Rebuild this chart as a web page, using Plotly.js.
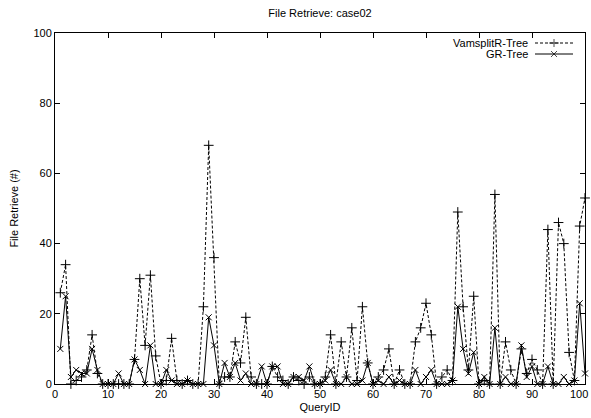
<!DOCTYPE html>
<html>
<head>
<meta charset="utf-8">
<script src="https://cdn.plot.ly/plotly-3.0.1.min.js"></script>
<style>html,body{margin:0;padding:0;background:#fff;overflow:hidden;}#chart{width:591px;height:418px;}</style>
</head>
<body>
<div id="chart"></div>
<script>
// Query IDs
const queryIds = Array.from({length: 100}, (_, i) => i + 1);
// VamsplitR-Tree file retrieve counts
const vamsplit = [
  26, 34, 0, 1, 2, 4, 14, 3, 0, 0,
  0, 0, 0, 0, 7, 30, 11, 31, 8, 0,
  1, 13, 1, 0, 1, 0, 0, 22, 68, 36,
  0, 2, 2, 12, 6, 19, 2, 0, 0, 0,
  5, 2, 1, 0, 2, 1, 0, 2, 0, 0,
  2, 14, 0, 12, 2, 16, 1, 22, 6, 0,
  2, 4, 10, 0, 4, 0, 0, 12, 16, 23,
  14, 0, 2, 4, 1, 49, 22, 4, 25, 0,
  1, 0, 54, 0, 12, 4, 0, 10, 3, 7,
  4, 0, 44, 0, 46, 40, 9, 1, 45, 53
];
// GR-Tree file retrieve counts
const grtree = [
  10, 25, 2, 4, 3, 3, 10, 4, 0, 0,
  0, 3, 0, 0, 7, 4, 0, 11, 0, 0,
  4, 1, 0, 0, 1, 0, 0, 0, 19, 11,
  0, 6, 2, 6, 1, 3, 0, 0, 5, 0,
  5, 5, 0, 0, 2, 2, 1, 5, 0, 0,
  1, 4, 0, 0, 2, 0, 0, 1, 6, 0,
  1, 0, 2, 0, 1, 0, 0, 4, 0, 2,
  4, 0, 0, 0, 1, 22, 10, 3, 9, 0,
  2, 0, 16, 0, 2, 0, 0, 11, 2, 5,
  0, 0, 5, 0, 0, 2, 0, 1, 23, 3
];
const seriesNames = ['VamsplitR-Tree', 'GR-Tree'];
const xTicks = [0, 10, 20, 30, 40, 50, 60, 70, 80, 90, 100];
const yTicks = [0, 20, 40, 60, 80, 100];

const FONT = 'Liberation Sans, Arial, Helvetica, sans-serif';
const legendSampleX = [0, 0.5, 1];
const legendSampleY = [0.5, 0.5, 0.5];

const traces = [
  {
    x: queryIds, y: vamsplit, name: seriesNames[0], type: 'scatter', mode: 'lines+markers',
    line: {color: '#000', width: 1, dash: '3px,2px'},
    marker: {symbol: 'cross-thin-open', size: 7, color: '#000', line: {color: '#000', width: 1}},
    showlegend: false, cliponaxis: false
  },
  {
    x: queryIds, y: grtree, name: seriesNames[1], type: 'scatter', mode: 'lines+markers',
    line: {color: '#000', width: 1},
    marker: {symbol: 'x-thin-open', size: 6, color: '#000', line: {color: '#000', width: 1}},
    showlegend: false, cliponaxis: false
  },
  // legend samples (overlay axes)
  {
    x: legendSampleX, y: legendSampleY, xaxis: 'x2', yaxis: 'y2', mode: 'lines+markers',
    line: {color: '#000', width: 1, dash: '3px,2px'},
    marker: {symbol: 'cross-thin-open', size: [0, 7, 0], color: '#000', line: {color: '#000', width: 1}},
    showlegend: false, hoverinfo: 'skip'
  },
  {
    x: legendSampleX, y: legendSampleY, xaxis: 'x3', yaxis: 'y3', mode: 'lines+markers',
    line: {color: '#000', width: 1},
    marker: {symbol: 'x-thin-open', size: [0, 6, 0], color: '#000', line: {color: '#000', width: 1}},
    showlegend: false, hoverinfo: 'skip'
  }
];

// plot area: 55..585 px horizontally, 33..384 px vertically
const W = 591, H = 418;
const L = 55, R = 6, T = 33, B = 34;
const pw = W - L - R, ph = H - T - B;
function px2paperX(p) { return (p - L) / pw; }
function px2paperY(p) { return (H - B - p) / ph; }

const hiddenAxis = {visible: false, range: [0, 1], fixedrange: true};
const lastX = xTicks[xTicks.length - 1];

const layout = {
  width: W, height: H,
  margin: {l: L, r: R, t: T, b: B},
  paper_bgcolor: '#fff', plot_bgcolor: '#fff',
  font: {family: FONT, size: 11, color: '#000'},
  showlegend: false,
  title: {
    text: 'File Retrieve: case02', font: {family: FONT, size: 11, color: '#000'},
    x: 0.5, xref: 'paper', y: 1 - 13 / H, yref: 'container', yanchor: 'middle'
  },
  xaxis: {
    range: [0, 100], tickvals: xTicks,
    ticktext: xTicks.map(v => v === lastX ? '' : String(v)),
    ticks: 'inside', ticklen: 5, tickwidth: 1, tickcolor: '#000',
    showline: true, linecolor: '#000', linewidth: 1, mirror: 'allticks',
    showgrid: false, zeroline: false,
    tickfont: {family: FONT, size: 11, color: '#000'},
    title: {text: 'QueryID', font: {family: FONT, size: 11, color: '#000'}, standoff: 4}
  },
  yaxis: {
    range: [0, 100], tickvals: yTicks, ticktext: yTicks.map(String),
    ticks: 'inside', ticklen: 5, tickwidth: 1, tickcolor: '#000',
    showline: true, linecolor: '#000', linewidth: 1, mirror: 'allticks',
    showgrid: false, zeroline: false,
    tickfont: {family: FONT, size: 11, color: '#000'},
    title: {text: 'File Retrieve (#)', font: {family: FONT, size: 11, color: '#000'}, standoff: 12}
  },
  xaxis2: Object.assign({domain: [px2paperX(535), px2paperX(573)], anchor: 'y2'}, hiddenAxis),
  yaxis2: Object.assign({domain: [px2paperY(47), px2paperY(39)], anchor: 'x2'}, hiddenAxis),
  xaxis3: Object.assign({domain: [px2paperX(535), px2paperX(573)], anchor: 'y3'}, hiddenAxis),
  yaxis3: Object.assign({domain: [px2paperY(58), px2paperY(50)], anchor: 'x3'}, hiddenAxis),
  annotations: [
    {text: seriesNames[0], xref: 'paper', yref: 'paper', x: px2paperX(530), y: px2paperY(43),
     xanchor: 'right', yanchor: 'middle', showarrow: false, font: {family: FONT, size: 11, color: '#000'}},
    {text: seriesNames[1], xref: 'paper', yref: 'paper', x: px2paperX(530), y: px2paperY(54),
     xanchor: 'right', yanchor: 'middle', showarrow: false, font: {family: FONT, size: 11, color: '#000'}},
    {text: String(lastX), xref: 'x', yref: 'paper', x: lastX, y: px2paperY(394),
     xanchor: 'right', yanchor: 'middle', xshift: 5, showarrow: false,
     font: {family: FONT, size: 11, color: '#000'}}
  ]
};

Plotly.newPlot('chart', traces, layout, {staticPlot: true, displayModeBar: false});
</script>
</body>
</html>
